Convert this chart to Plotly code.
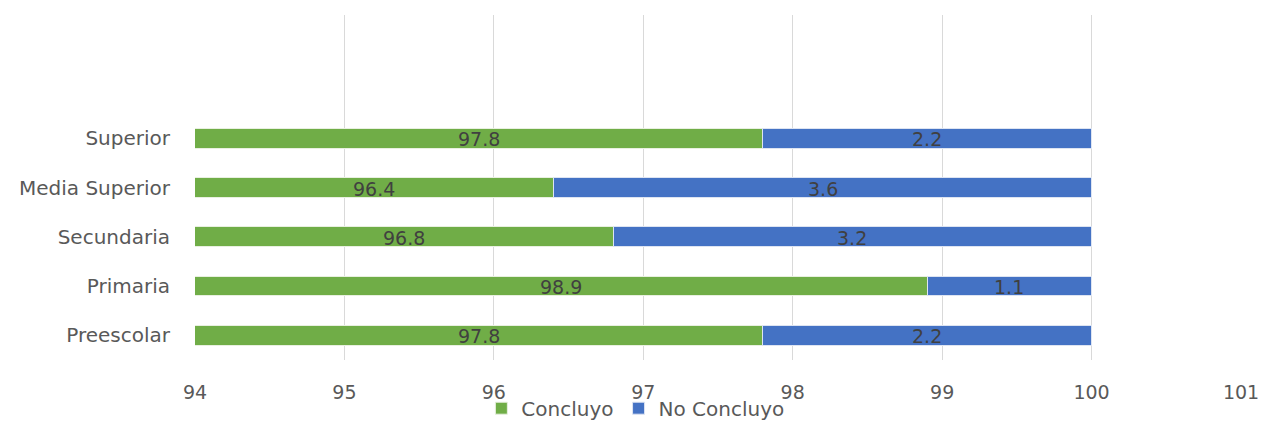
import plotly.graph_objects as go

categories = ["Preescolar", "Primaria", "Secundaria", "Media Superior", "Superior"]
concluyo = [97.8, 98.9, 96.8, 96.4, 97.8]
no_concluyo = [2.2, 1.1, 3.2, 3.6, 2.2]
x_ticks = [94, 95, 96, 97, 98, 99, 100, 101]
x_min, x_max = 94, 101

GREEN = "#70AD47"
BLUE = "#4472C4"
FONT = "DejaVu Sans, Open Sans, sans-serif"
LABEL_COLOR = "#404040"
AXIS_COLOR = "#595959"

fig = go.Figure()
fig.add_trace(go.Bar(
    y=categories, x=concluyo, orientation="h", name="Concluyo",
    marker=dict(color=GREEN, line=dict(color="#e8f0e0", width=1)),
))
fig.add_trace(go.Bar(
    y=categories, x=no_concluyo, orientation="h", name="No Concluyo",
    marker=dict(color=BLUE, line=dict(color="#dde4f2", width=1)),
))

# value labels centred on the visible part of each segment
annotations = []
for cat, c, n in zip(categories, concluyo, no_concluyo):
    annotations.append(dict(
        x=(max(0, x_min) + c) / 2, y=cat, text=f"{c:g}", showarrow=False,
        xref="x", yref="y", yshift=-1,
        font=dict(size=19, color=LABEL_COLOR, family=FONT),
    ))
    annotations.append(dict(
        x=c + n / 2, y=cat, text=f"{n:g}", showarrow=False,
        xref="x", yref="y", yshift=-1,
        font=dict(size=19, color=LABEL_COLOR, family=FONT),
    ))

fig.update_layout(
    barmode="stack",
    bargap=0.6,
    width=1263, height=423,
    margin=dict(l=195, r=22, t=15, b=63, autoexpand=False),
    paper_bgcolor="white", plot_bgcolor="white",
    font=dict(family=FONT, color=AXIS_COLOR, size=19),
    annotations=annotations,
    legend=dict(
        orientation="h", x=0.421, xanchor="center",
        yref="container", y=0.035, yanchor="middle",
        font=dict(size=20, color=AXIS_COLOR), itemwidth=30,
        bgcolor="rgba(0,0,0,0)", traceorder="normal",
    ),
    xaxis=dict(
        range=[x_min, x_max], tickvals=x_ticks, showgrid=True,
        gridcolor="#d9d9d9", gridwidth=1, zeroline=False,
        ticklabelstandoff=19, tickfont=dict(size=19, color=AXIS_COLOR),
        showline=False, automargin=False,
    ),
    yaxis=dict(
        categoryorder="array", categoryarray=categories,
        range=[-0.5, 6.5], showgrid=False, zeroline=False,
        ticklabelstandoff=24, tickfont=dict(size=20, color=AXIS_COLOR),
        automargin=False,
    ),
)

fig.write_html("out.html")
